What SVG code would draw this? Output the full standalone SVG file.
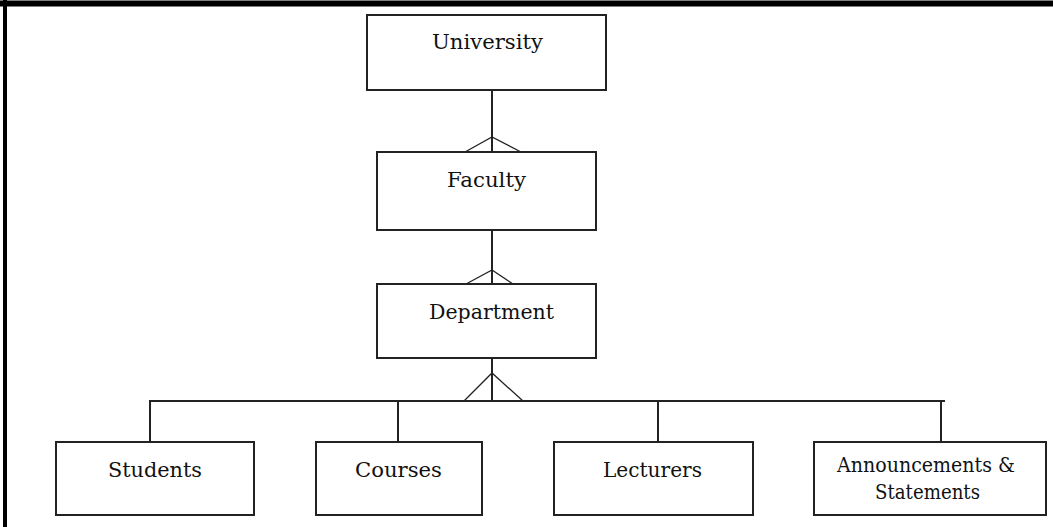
<svg xmlns="http://www.w3.org/2000/svg" width="1053" height="527" viewBox="0 0 1053 527">
<style>
.box{fill:#fff;stroke:#222;stroke-width:2}
.lbl{font-family:"DejaVu Serif","Liberation Serif",serif;font-size:21px;fill:#111;text-anchor:middle}
.ln{stroke:#222;stroke-width:2;fill:none}
.cf{stroke:#222;stroke-width:1.3;fill:none}
.frame{stroke:#000;fill:none}
</style>
<rect width="1053" height="527" fill="#fff"/>
<g id="frame">
<line class="frame" x1="0" y1="3.5" x2="1053" y2="3.5" stroke-width="6"/>
<line class="frame" x1="5" y1="0" x2="5" y2="527" stroke-width="4"/>
</g>
<g id="connectors">
<line class="ln" x1="492" y1="90" x2="492" y2="152"/>
<polyline class="cf" points="465,152 492,137 521,152"/>
<line class="ln" x1="492" y1="230" x2="492" y2="284"/>
<polyline class="cf" points="466,284 492,270 513,284"/>
<line class="ln" x1="492" y1="358" x2="492" y2="401"/>
<polyline class="cf" points="464,401 492,373 523,401"/>
<polyline class="ln" points="150,442 150,401 945,401"/>
<line class="ln" x1="398" y1="401" x2="398" y2="442"/>
<line class="ln" x1="658" y1="401" x2="658" y2="442"/>
<line class="ln" x1="941" y1="401" x2="941" y2="442"/>
</g>
<g id="university">
<rect class="box" x="367" y="15" width="239" height="75"/>
<text class="lbl" x="487.5" y="49" textLength="111" lengthAdjust="spacingAndGlyphs">University</text>
</g>
<g id="faculty">
<rect class="box" x="377" y="152" width="219" height="78"/>
<text class="lbl" x="486.5" y="187" textLength="79" lengthAdjust="spacingAndGlyphs">Faculty</text>
</g>
<g id="department">
<rect class="box" x="377" y="284" width="219" height="74"/>
<text class="lbl" x="491.5" y="319" textLength="125" lengthAdjust="spacingAndGlyphs">Department</text>
</g>
<g id="students">
<rect class="box" x="56" y="442" width="198" height="73"/>
<text class="lbl" x="155" y="477" textLength="94" lengthAdjust="spacingAndGlyphs">Students</text>
</g>
<g id="courses">
<rect class="box" x="316" y="442" width="166" height="73"/>
<text class="lbl" x="398.5" y="477" textLength="87" lengthAdjust="spacingAndGlyphs">Courses</text>
</g>
<g id="lecturers">
<rect class="box" x="554" y="442" width="199" height="73"/>
<text class="lbl" x="652.5" y="477" textLength="99" lengthAdjust="spacingAndGlyphs">Lecturers</text>
</g>
<g id="announcements">
<rect class="box" x="814" y="442" width="232" height="73"/>
<text class="lbl" x="926" y="472" textLength="178" lengthAdjust="spacingAndGlyphs">Announcements &amp;</text>
<text class="lbl" x="927.5" y="499" textLength="105" lengthAdjust="spacingAndGlyphs">Statements</text>
</g>
</svg>
